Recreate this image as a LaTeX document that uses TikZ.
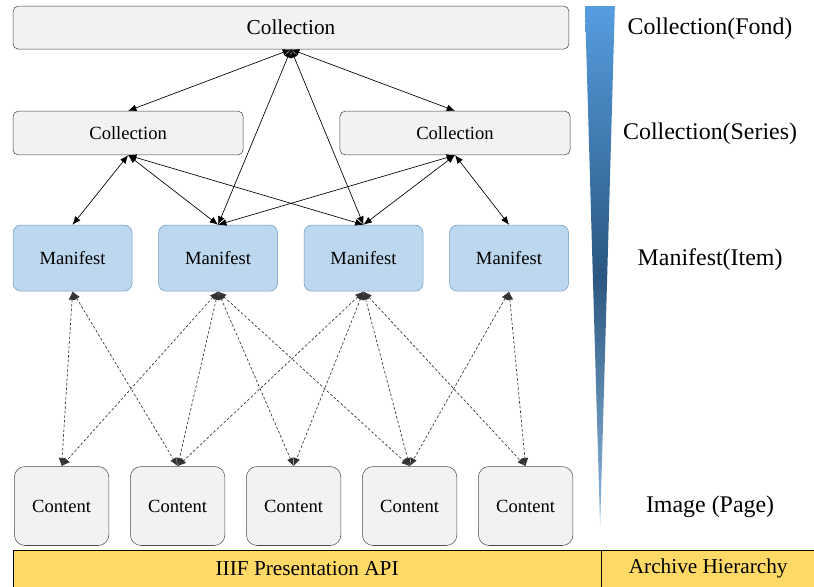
\documentclass[tikz,border=0pt]{standalone}
\usepackage{fontspec}
\setmainfont{Liberation Serif}
\usetikzlibrary{shapes, arrows.meta, positioning, calc}
\definecolor{boxgray}{HTML}{F2F2F2}
\definecolor{manblue}{HTML}{BDD7EE}
\definecolor{manline}{HTML}{6C9AC6}
\definecolor{bargold}{HTML}{FFD966}
\definecolor{shadeA}{HTML}{569DE0}
\definecolor{shadeB}{HTML}{2B5780}
\definecolor{shadeC}{HTML}{4A8CCB}
\tikzstyle{coll} = [draw=black!75, fill=boxgray, rectangle, rounded corners=4pt, inner sep=0pt]
\tikzstyle{manif} = [draw=manline, fill=manblue, rectangle, rounded corners=6pt, minimum width=3.15cm, minimum height=1.75cm, font=\fontsize{14}{16}\selectfont]
\tikzstyle{cont} = [draw=black!70, fill=boxgray, rectangle, rounded corners=8pt, minimum width=2.5cm, minimum height=2.09cm, font=\fontsize{14}{16}\selectfont]
\tikzstyle{apibar} = [draw, fill=bargold, rectangle, inner sep=0pt, minimum height=0.98cm, font=\fontsize{16}{18}\selectfont]
\tikzstyle{lvl} = [font=\fontsize{18}{21}\selectfont]
\tikzstyle{link} = [<->, line width=0.5pt]
\tikzstyle{dlink} = [<->, black!80, dash pattern=on 2pt off 1.5pt, line width=0.5pt]

\begin{document}
\begin{tikzpicture}[>={Latex[length=2.2mm,width=1.8mm]}]
  \useasboundingbox (0,0) rectangle (21.54,-15.53);

  \node[coll, minimum width=14.71cm, minimum height=1.14cm, font=\fontsize{16}{18}\selectfont] (c0) at (7.70,-0.73) {Collection};
  \node[coll, minimum width=6.09cm, minimum height=1.16cm, font=\fontsize{14}{16}\selectfont] (c1) at (3.39,-3.52) {Collection};
  \node[coll, minimum width=6.09cm, minimum height=1.16cm, font=\fontsize{14}{16}\selectfont, right of=c1, node distance=8.65cm] (c2) {Collection};

  \node[manif] (m1) at (1.92,-6.83) {Manifest};
  \node[manif, right of=m1, node distance=3.85cm] (m2) {Manifest};
  \node[manif, right of=m2, node distance=3.85cm] (m3) {Manifest};
  \node[manif, right of=m3, node distance=3.85cm] (m4) {Manifest};

  \node[cont] (k1) at (1.63,-13.39) {Content};
  \node[cont, right of=k1, node distance=3.07cm] (k2) {Content};
  \node[cont, right of=k2, node distance=3.07cm] (k3) {Content};
  \node[cont, right of=k3, node distance=3.07cm] (k4) {Content};
  \node[cont, right of=k4, node distance=3.07cm] (k5) {Content};

  \node[apibar, minimum width=15.56cm, anchor=north west] (api) at (0.34,-14.55) {IIIF Presentation API};
  \node[apibar, minimum width=5.64cm, right=0pt of api] (arch) {Archive Hierarchy};

  % hierarchy wedge, dark in the middle
  \coordinate (w1) at (15.48,-0.16);
  \coordinate (w2) at (16.27,-0.16);
  \coordinate (w3) at (15.88,-13.94);
  \coordinate (w4) at ($(w1)!0.52!(w3)$);
  \coordinate (w5) at ($(w2)!0.52!(w3)$);
  \shade[top color=shadeA, bottom color=shadeB] (w1) -- (w2) -- (w5) -- (w4) -- cycle;
  \shade[top color=shadeB, bottom color=shadeC!60!white] (w4) -- (w5) -- (w3) -- cycle;

  \node[lvl] (l1) at (18.79,-0.77) {Collection(Fond)};
  \node[lvl] (l2) at (18.79,-3.55) {Collection(Series)};
  \node[lvl] (l3) at (18.79,-6.88) {Manifest(Item)};
  \node[lvl] (l4) at (18.79,-13.42) {Image (Page)};

  \draw[link] (c0.south) -- (c1.north);
  \draw[link] (c0.south) -- (c2.north);
  \draw[link] (c0.south) -- (m2.north);
  \draw[link] (c0.south) -- (m3.north);
  \draw[link] (c1.south) -- (m1.north);
  \draw[link] (c1.south) -- (m2.north);
  \draw[link] (c1.south) -- (m3.north);
  \draw[link] (c2.south) -- (m2.north);
  \draw[link] (c2.south) -- (m3.north);
  \draw[link] (c2.south) -- (m4.north);

  \draw[dlink] (m1.south) -- (k1.north);
  \draw[dlink] (m1.south) -- (k2.north);
  \draw[dlink] (m2.south) -- (k1.north);
  \draw[dlink] (m2.south) -- (k2.north);
  \draw[dlink] (m2.south) -- (k3.north);
  \draw[dlink] (m2.south) -- (k4.north);
  \draw[dlink] (m3.south) -- (k2.north);
  \draw[dlink] (m3.south) -- (k3.north);
  \draw[dlink] (m3.south) -- (k4.north);
  \draw[dlink] (m3.south) -- (k5.north);
  \draw[dlink] (m4.south) -- (k4.north);
  \draw[dlink] (m4.south) -- (k5.north);

\end{tikzpicture}
\end{document}
